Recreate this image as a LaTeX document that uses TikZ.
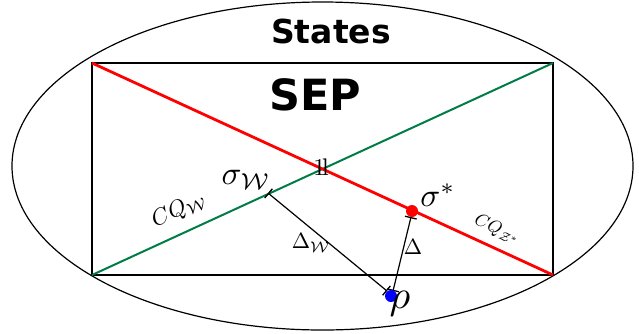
\documentclass[tikz,border=0pt]{standalone}
\usepackage{fontspec}
\newfontfamily\hdr{DejaVu Sans}
\usetikzlibrary{arrows.meta,shapes.geometric}
\definecolor{sepgreen}{RGB}{0,125,70}
\tikzset{
  hdrtext/.style={font=\hdr\bfseries\fontsize{#1}{#1}\selectfont, inner sep=0pt},
  mlabel/.style={font=\normalsize, inner sep=0pt, scale=#1},
  dot/.style={circle, inner sep=0pt, minimum size=12pt, draw=none},
  dline/.style={line width=1.2pt, {Bar[width=12pt,line width=1.3pt]}-{Bar[width=12pt,line width=1.3pt]}},
}
\begin{document}
\begin{tikzpicture}[x=1pt,y=-1pt]
\useasboundingbox (0,0) rectangle (639,333);
% outer ellipse
\node[draw, line width=1.2pt, ellipse, minimum width=621pt, minimum height=328pt, inner sep=0pt] (states) at (322.5,166) {};
% rectangle
\coordinate (TL) at (92,63);
\coordinate (TR) at (553,63);
\coordinate (BL) at (92,275);
\coordinate (BR) at (553,275);
\draw[line width=2.4pt] (TL) rectangle (BR);
\draw[sepgreen, line width=2pt] (BL) -- (TR);
\draw[red, line width=2.8pt] (TL) -- (BR);
% points
\coordinate (sw) at (268,193);
\coordinate (rhoA) at (387,291);
\coordinate (sA) at (411,217);
\coordinate (rhoB) at (393,291);
\draw[dline] (sw) -- (rhoA);
\draw[dline] (sA) -- (rhoB);
\node[dot, fill=red] (sstar) at (412,211) {};
\node[dot, fill=blue] (rho) at (391,296) {};
% texts
\node[hdrtext=33] (tstates) at (331,31) {States};
\node[hdrtext=43] (tsep) at (315,95) {SEP};
\node[mlabel=2.4] (one) at (321,167) {$\mathrm{1}\mkern-2.5mu\mathrm{l}$};
\node[mlabel=3.3] (lsw) at (246,180) {$\sigma_{\mathcal{W}}$};
\node[mlabel=3.3] (lss) at (438,195) {$\sigma^*$};
\node[mlabel=2.3, rotate=24.7] (lcqw) at (179,210) {$CQ_{\mathcal{W}}$};
\node[mlabel=1.8, rotate=-24.7] (lcqz) at (497,230) {$CQ_{\mathcal{Z}^*}$};
\node[mlabel=2.2] (ldw) at (311,243) {$\Delta_{\mathcal{W}}$};
\node[mlabel=2.2] (ld) at (413,247) {$\Delta$};
\node[mlabel=4.0] (lrho) at (400,304) {$\rho$};
\end{tikzpicture}
\end{document}
